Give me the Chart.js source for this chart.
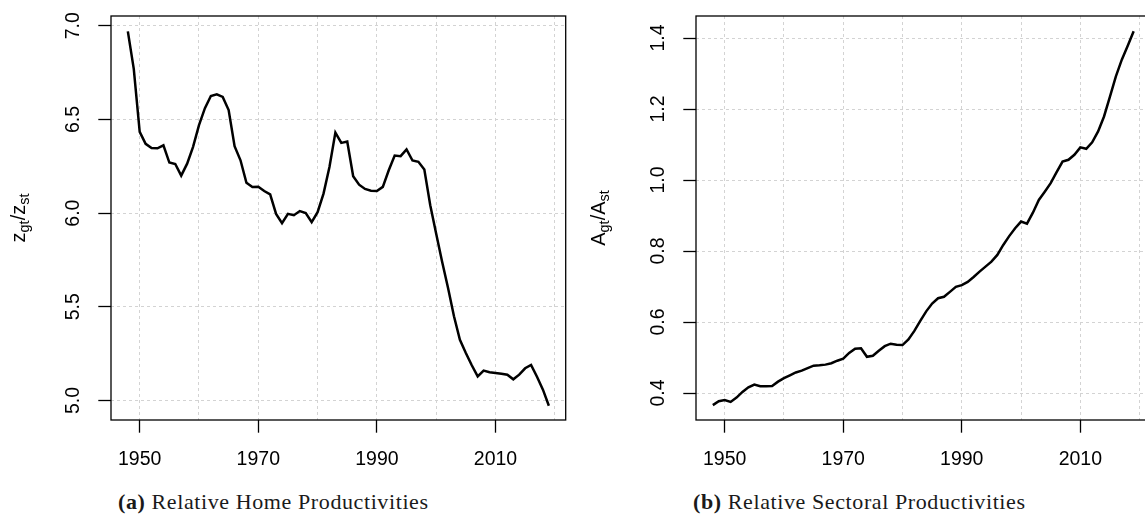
<!DOCTYPE html>
<html lang="en">
<head>
    <meta charset="UTF-8">
    <title>Relative Productivities</title>
    <script src="https://cdn.jsdelivr.net/npm/chart.js"></script>
    <style>
        html, body {
            margin: 0;
            padding: 0;
            background: #fff;
            width: 1145px;
            height: 515px;
            overflow: hidden;
        }
        .panel {
            position: absolute;
            top: 0;
        }
        #panelA { left: 0; }
        #panelB { left: 580px; }
        .caption {
            position: absolute;
            top: 491px;
            font-family: "Liberation Serif", "Times New Roman", serif;
            font-size: 22px;
            line-height: 22px;
            letter-spacing: 0.6px;
            color: #1a1a1a;
            white-space: nowrap;
        }
    </style>
</head>
<body>

<div class="panel" id="panelA"><canvas id="homeChart" width="575" height="480"></canvas></div>
<div class="panel" id="panelB"><canvas id="sectorChart" width="575" height="480"></canvas></div>
<div class="caption" style="left:118px"><b>(a)</b> Relative Home Productivities</div>
<div class="caption" style="left:693px"><b>(b)</b> Relative Sectoral Productivities</div>

<script>
    // data, one value per year
    const years = [
        1948, 1949, 1950, 1951, 1952, 1953, 1954, 1955, 1956, 1957, 1958, 1959,
        1960, 1961, 1962, 1963, 1964, 1965, 1966, 1967, 1968, 1969, 1970, 1971,
        1972, 1973, 1974, 1975, 1976, 1977, 1978, 1979, 1980, 1981, 1982, 1983,
        1984, 1985, 1986, 1987, 1988, 1989, 1990, 1991, 1992, 1993, 1994, 1995,
        1996, 1997, 1998, 1999, 2000, 2001, 2002, 2003, 2004, 2005, 2006, 2007,
        2008, 2009, 2010, 2011, 2012, 2013, 2014, 2015, 2016, 2017, 2018, 2019
    ];

    // z_gt / z_st
    const homeRatio = [
        6.97, 6.77, 6.434, 6.37, 6.348, 6.346, 6.362, 6.27, 6.262, 6.20, 6.264, 6.354,
        6.47, 6.56, 6.625, 6.634, 6.62, 6.55, 6.357, 6.282, 6.162, 6.139, 6.141, 6.118,
        6.10, 5.996, 5.946, 5.996, 5.989, 6.011, 6.0, 5.952, 6.005, 6.104, 6.246, 6.43,
        6.375, 6.382, 6.197, 6.152, 6.129, 6.12, 6.118, 6.14, 6.229, 6.307, 6.304, 6.34,
        6.281, 6.274, 6.233, 6.042, 5.89, 5.74, 5.60, 5.45, 5.324, 5.254, 5.188, 5.129,
        5.16, 5.151, 5.147, 5.143, 5.138, 5.113, 5.138, 5.172, 5.19, 5.127, 5.058, 4.972
    ];

    // A_gt / A_st
    const sectoralRatio = [
        0.366, 0.377, 0.380, 0.375, 0.387, 0.403, 0.416, 0.424, 0.419, 0.419, 0.420, 0.432,
        0.442, 0.450, 0.458, 0.463, 0.470, 0.477, 0.478, 0.480, 0.484, 0.491, 0.497, 0.513,
        0.525, 0.526, 0.502, 0.505, 0.519, 0.532, 0.539, 0.536, 0.535, 0.551, 0.575, 0.603,
        0.630, 0.652, 0.667, 0.671, 0.685, 0.699, 0.704, 0.713, 0.727, 0.742, 0.756, 0.770,
        0.789, 0.817, 0.842, 0.864, 0.883, 0.877, 0.908, 0.944, 0.967, 0.991, 1.022, 1.052,
        1.057, 1.071, 1.092, 1.088, 1.106, 1.137, 1.179, 1.235, 1.292, 1.339, 1.378, 1.419
    ];

    const gridYears = [1950, 1960, 1970, 1980, 1990, 2000, 2010, 2020];
    const labelYears = [1950, 1970, 1990, 2010];
    const homeTicks = [5.0, 5.5, 6.0, 6.5, 7.0];
    const sectoralTicks = [0.4, 0.6, 0.8, 1.0, 1.2, 1.4];

    const sansFamily = '"Liberation Sans", Arial, Helvetica, sans-serif';
    Chart.defaults.font.family = sansFamily;
    Chart.defaults.font.size = 19.5;
    Chart.defaults.color = '#000';

    // box around the plot region, like R's box()
    const plotBox = {
        id: 'plotBox',
        afterDraw(chart) {
            const { ctx, chartArea: a } = chart;
            ctx.save();
            ctx.strokeStyle = '#000';
            ctx.lineWidth = 1.3;
            ctx.strokeRect(a.left, a.top, a.right - a.left, a.bottom - a.top);
            ctx.restore();
        }
    };

    // rotated y title with subscripts
    const yTitle = {
        id: 'yTitle',
        afterDraw(chart, args, opts) {
            const { ctx, chartArea } = chart;
            const mainFont = '20px ' + sansFamily;
            const subFont = '14.5px ' + sansFamily;
            ctx.save();
            let total = 0;
            const widths = opts.parts.map(p => {
                ctx.font = p[1] ? subFont : mainFont;
                const w = ctx.measureText(p[0]).width;
                total += w;
                return w;
            });
            ctx.translate(opts.x, (chartArea.top + chartArea.bottom) / 2);
            ctx.rotate(-Math.PI / 2);
            ctx.fillStyle = '#000';
            ctx.textBaseline = 'alphabetic';
            let pos = -total / 2;
            opts.parts.forEach((p, i) => {
                ctx.font = p[1] ? subFont : mainFont;
                ctx.fillText(p[0], pos, p[1] ? 4 : 0);
                pos += widths[i];
            });
            ctx.restore();
        }
    };

    function makeChart(id, values, cfg) {
        const points = years.map((yr, i) => ({ x: yr, y: values[i] }));
        return new Chart(document.getElementById(id), {
            type: 'line',
            data: {
                datasets: [{
                    data: points,
                    borderColor: '#000',
                    borderWidth: 2.5,
                    pointRadius: 0,
                    tension: 0,
                    fill: false
                }]
            },
            options: {
                responsive: false,
                animation: false,
                layout: { padding: { top: 16, right: cfg.rightPad, left: 0, bottom: 0 } },
                plugins: {
                    legend: { display: false },
                    tooltip: { enabled: false },
                    yTitle: { parts: cfg.title, x: 25 }
                },
                scales: {
                    x: {
                        type: 'linear',
                        min: 1945.16,
                        max: 2021.84,
                        afterBuildTicks: s => { s.ticks = gridYears.map(v => ({ value: v })); },
                        afterFit: s => { s.height = 60; s.paddingLeft = 0; s.paddingRight = 0; },
                        grid: {
                            color: '#d3d3d3',
                            lineWidth: 1,
                            tickLength: 12.7,
                            tickWidth: 1.3,
                            tickColor: c => (c.tick && labelYears.includes(c.tick.value)) ? '#000' : 'rgba(0,0,0,0)'
                        },
                        border: { display: false, dash: [3, 3] },
                        ticks: {
                            padding: 15.3,
                            maxRotation: 0,
                            autoSkip: false,
                            callback: v => labelYears.includes(v) ? String(v) : ''
                        }
                    },
                    y: {
                        type: 'linear',
                        min: cfg.yMin,
                        max: cfg.yMax,
                        afterBuildTicks: s => { s.ticks = cfg.ticks.map(v => ({ value: v })); },
                        afterFit: s => { s.width = cfg.axisWidth; s.paddingTop = 0; s.paddingBottom = 0; },
                        grid: {
                            color: '#d3d3d3',
                            lineWidth: 1,
                            tickLength: 12.7,
                            tickWidth: 1.3,
                            tickColor: '#000'
                        },
                        border: { display: false, dash: [3, 3] },
                        ticks: {
                            padding: 10.7,
                            minRotation: 90,
                            maxRotation: 90,
                            crossAlign: 'center',
                            autoSkip: false,
                            callback: v => v.toFixed(1)
                        }
                    }
                }
            },
            plugins: [plotBox, yTitle]
        });
    }

    makeChart('homeChart', homeRatio, {
        yMin: 4.896, yMax: 7.052, ticks: homeTicks, axisWidth: 111, rightPad: 9.3,
        title: [['z', 0], ['gt', 1], ['/', 0], ['z', 0], ['st', 1]]
    });

    makeChart('sectorChart', sectoralRatio, {
        yMin: 0.324, yMax: 1.462, ticks: sectoralTicks, axisWidth: 116, rightPad: 4.5,
        title: [['A', 0], ['gt', 1], ['/', 0], ['A', 0], ['st', 1]]
    });
</script>

</body>
</html>
